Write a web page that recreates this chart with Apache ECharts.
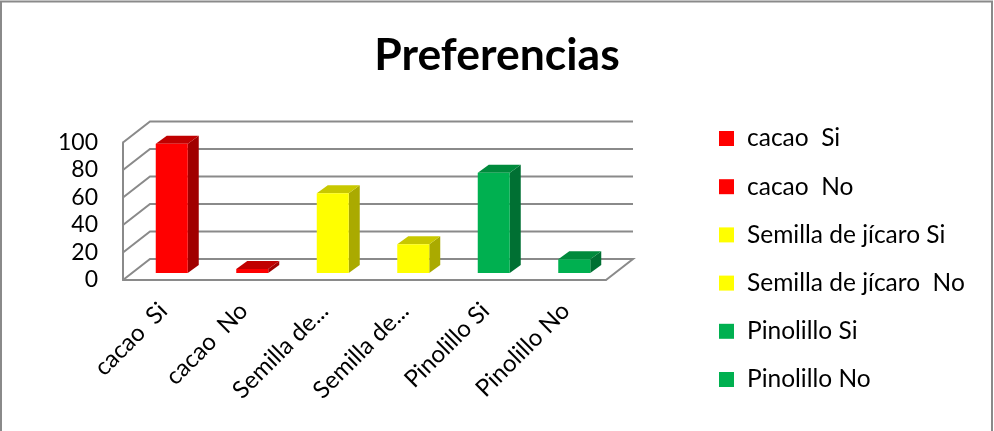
<!DOCTYPE html>
<html><head><meta charset="utf-8">
<style>html,body{margin:0;padding:0;background:#fff}#c{width:994px;height:431px}</style>
<script src="https://cdn.jsdelivr.net/npm/echarts@6/dist/echarts.min.js"></script>
</head><body><div id="c"></div>
<script>
const legendNames = ["cacao  Si","cacao  No","Semilla de jícaro Si","Semilla de jícaro  No","Pinolillo Si","Pinolillo No"];
const tickLabels = ["cacao  Si","cacao  No","Semilla de...","Semilla de...","Pinolillo Si","Pinolillo No"];
const values = [94,3,58,21,73,10];
const yTicks = [0,20,40,60,80,100];
const frontColors = ["#ff0000","#ff0000","#ffff00","#ffff00","#00b050","#00b050"];
const topColors = ["#c00000","#c00000","#c8c800","#c8c800","#008a3c","#008a3c"];
const sideColors = ["#a00000","#a00000","#aaaa00","#aaaa00","#007033","#007033"];

const FONT = "Lato";
const GREY = "#8a8a8a";
const WALL = [27,-21], BAR_SHIFT = [8.5,-7], BAR_DEPTH = [11,-8], BAR_W = 32;

const chart = echarts.init(document.getElementById('c'));

function renderWall(params, api){
  const r = params.coordSys;
  const v = api.value(0);
  const p = api.coord([0, v]);
  const y = p[1], xl = r.x, xr = r.x + r.width;
  const style = {stroke:GREY, lineWidth:2, fill:null};
  const pts = [[xl,y],[xl+WALL[0],y+WALL[1]],[xr+WALL[0],y+WALL[1]]];
  if (v === 0) pts.push([xr,y]);
  return {type:'polyline', shape:{points:pts}, style, silent:true};
}
function renderBar(params, api){
  const c = api.coord([api.value(0), api.value(1)]);
  const base = api.coord([api.value(0), 0]);
  const i = api.value(0);
  const x0 = c[0] + BAR_SHIFT[0] - BAR_W/2, x1 = x0 + BAR_W;
  const yt = c[1] + BAR_SHIFT[1], yb = base[1] + BAR_SHIFT[1];
  const dx = BAR_DEPTH[0], dy = BAR_DEPTH[1];
  return {type:'group', children:[
    {type:'polygon', shape:{points:[[x1,yt],[x1+dx,yt+dy],[x1+dx,yb+dy],[x1,yb]]}, style:{fill:sideColors[i]}},
    {type:'polygon', shape:{points:[[x0,yt],[x0+dx,yt+dy],[x1+dx,yt+dy],[x1,yt]]}, style:{fill:topColors[i]}},
    {type:'rect', shape:{x:x0,y:yt,width:BAR_W,height:yb-yt}, style:{fill:frontColors[i]}}
  ]};
}
const barSeries = legendNames.map((n,i)=>({
  name:n, type:'custom', clip:false, z:5,
  itemStyle:{color:frontColors[i]},
  encode:{x:0,y:1},
  data:[[i,values[i]]],
  renderItem:renderBar
}));
chart.setOption({
  animation:false,
  backgroundColor:'#fff',
  graphic:[{type:'rect', z:-1, shape:{x:1,y:1.5,width:991,height:432}, style:{fill:'#fff',stroke:GREY,lineWidth:2}}],
  title:{text:'Preferencias', left:492, top:28, textAlign:'center',
    textStyle:{fontFamily:FONT,fontSize:44.5,fontWeight:'bold',color:'#000'}},
  legend:{orient:'vertical', left:714, top:121, icon:'rect', itemWidth:15, itemHeight:15, itemGap:23.2, selectedMode:false,
    data:legendNames,
    textStyle:{fontFamily:FONT,fontSize:24.5,lineHeight:25,color:'#000',padding:[0,0,0,8]}},
  grid:{left:123, top:142.5, width:483, height:137.5, containLabel:false},
  xAxis:{type:'category', data:tickLabels,
    axisLine:{show:true,lineStyle:{color:GREY,width:2}}, axisTick:{show:false},
    axisLabel:{interval:0, rotate:45, fontFamily:FONT, fontSize:24, color:'#000', margin:27}},
  yAxis:{type:'value', min:0, max:100, interval:20,
    axisLine:{show:true,lineStyle:{color:GREY,width:2}}, axisTick:{show:false}, splitLine:{show:false},
    axisLabel:{fontFamily:FONT, fontSize:23, color:'#000', margin:25}},
  series:[
    {type:'custom', name:'_wall', clip:false, z:1, encode:{y:0}, data:yTicks.map(v=>[v]), renderItem:renderWall, silent:true},
    ...barSeries
  ]
});
</script></body></html>
